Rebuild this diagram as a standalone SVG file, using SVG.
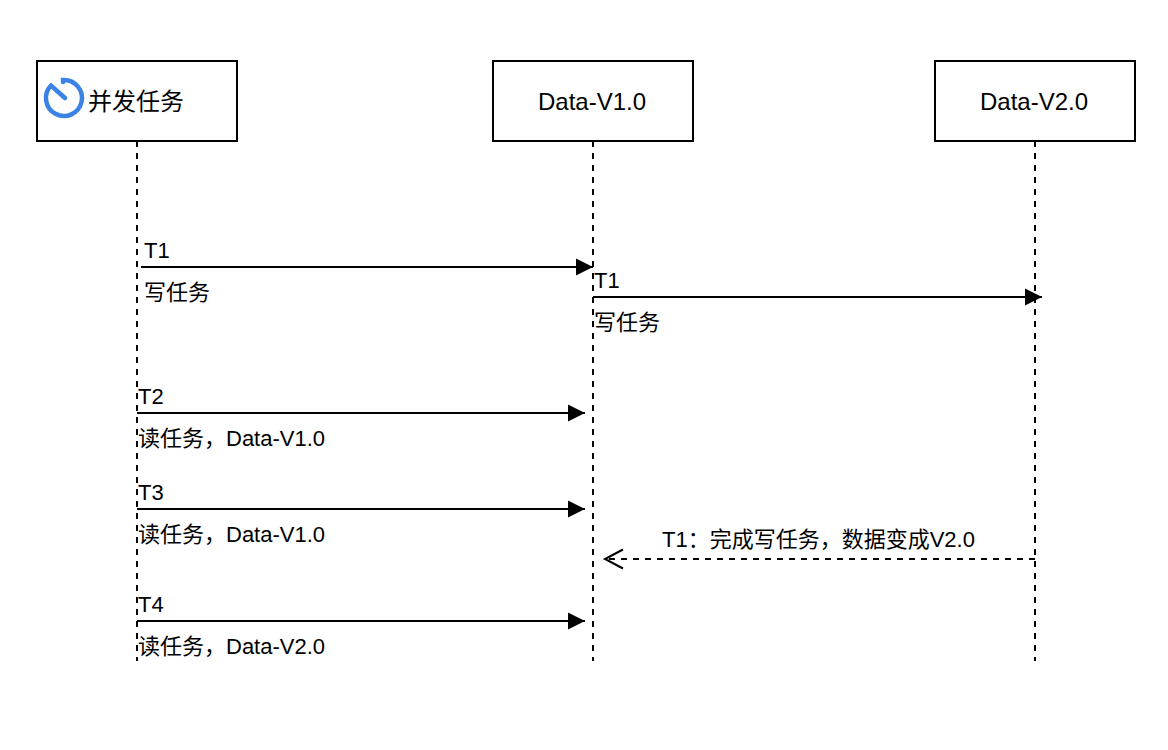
<svg xmlns="http://www.w3.org/2000/svg" width="1168" height="750" viewBox="0 0 1168 750">
  <style>
    .box { fill: #fff; stroke: #000; stroke-width: 2; }
    .life { fill: none; stroke: #000; stroke-width: 2; stroke-dasharray: 6 6; }
    .msg { fill: none; stroke: #000; stroke-width: 2; }
    .ret { fill: none; stroke: #000; stroke-width: 2; stroke-dasharray: 6 6; }
    .icon { fill: none; stroke: #3b82e6; stroke-width: 4.500; stroke-linecap: round; }
    text { font-family: "Liberation Sans", "Noto Sans CJK SC", sans-serif; fill: #000; }
    .title { font-size: 24px; }
    .head { font-size: 24px; text-anchor: middle; }
    .lab { font-size: 22px; }
  </style>
  <defs>
    <marker id="solid" markerUnits="userSpaceOnUse" markerWidth="20" markerHeight="20" refX="17" refY="10" orient="auto">
      <path d="M0 1.500 L17 10 L0 18.500 Z" fill="#000"/>
    </marker>
  </defs>

  <rect width="1168" height="750" fill="#fff"/>

  <g id="connectors">
    <path class="life" d="M137 141V661"/>
    <path class="life" d="M593 141V661"/>
    <path class="life" d="M1035 141V661"/>
    <path class="msg" d="M141 267H593" marker-end="url(#solid)"/>
    <path class="msg" d="M593 297H1042" marker-end="url(#solid)"/>
    <path class="msg" d="M137 413H585" marker-end="url(#solid)"/>
    <path class="msg" d="M137 509H585" marker-end="url(#solid)"/>
    <path class="msg" d="M137 621H585" marker-end="url(#solid)"/>
    <path class="ret" d="M1035 559H606"/>
    <path class="msg" d="M623 549.500 L605 559 L623 568.500"/>
  </g>

  <g id="node-tasks">
    <rect class="box" x="37" y="61" width="200" height="80"/>
    <path class="icon" d="M63 82V80 A18 18 0 1 1 51 85.500 L65 98"/>
    <text class="title" x="88" y="110">并发任务</text>
  </g>

  <g id="node-v1">
    <rect class="box" x="493" y="61" width="200" height="80"/>
    <text class="head" x="592" y="110">Data-V1.0</text>
  </g>

  <g id="node-v2">
    <rect class="box" x="935" y="61" width="200" height="80"/>
    <text class="head" x="1034" y="110">Data-V2.0</text>
  </g>

  <g id="labels">
    <text class="lab" x="144" y="258">T1</text>
    <text class="lab" x="144" y="300">写任务</text>
    <text class="lab" x="594" y="288">T1</text>
    <text class="lab" x="594" y="330">写任务</text>
    <text class="lab" x="138" y="404">T2</text>
    <text class="lab" x="138" y="446">读任务，Data-V1.0</text>
    <text class="lab" x="138" y="500">T3</text>
    <text class="lab" x="138" y="542">读任务，Data-V1.0</text>
    <text class="lab" x="138" y="612">T4</text>
    <text class="lab" x="138" y="654">读任务，Data-V2.0</text>
    <text class="lab" x="662" y="547">T1：完成写任务，数据变成V2.0</text>
  </g>
</svg>
